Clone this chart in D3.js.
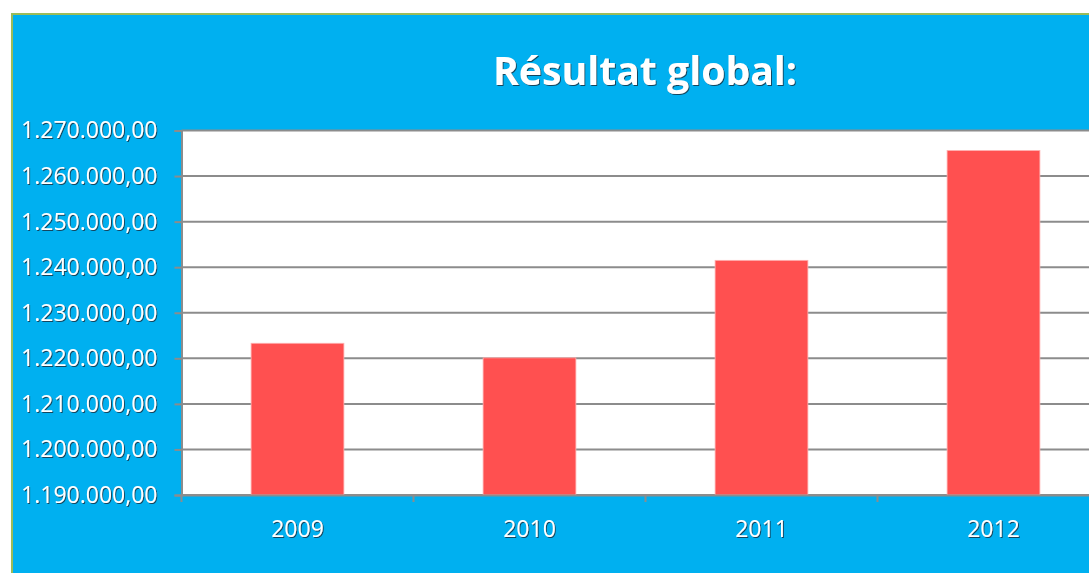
<!DOCTYPE html>
<html>
<head>
<meta charset="utf-8">
<script src="https://cdn.jsdelivr.net/npm/d3@7"></script>
<style>
  body { margin: 0; background: #ffffff; }
  text { font-family: "Open Sans", "Liberation Sans", sans-serif; }
</style>
</head>
<body>
<div id="chart"></div>
<script>
// data
var years = ["2009", "2010", "2011", "2012"];
var results = [1223300, 1220100, 1241500, 1265600];
var yTicks = [1190000, 1200000, 1210000, 1220000, 1230000, 1240000, 1250000, 1260000, 1270000];
var title = "Résultat global:";

var W = 1089, H = 573;
var margin = {top: 130.5, left: 181.5, bottom: 495};

var svg = d3.select("#chart").append("svg")
  .attr("width", W)
  .attr("height", H);

// little dark shadow like the office text effect
var defs = svg.append("defs");
var f = defs.append("filter").attr("id", "shadow")
  .attr("x", "-10%").attr("y", "-10%").attr("width", "130%").attr("height", "140%");
f.append("feDropShadow")
  .attr("dx", 1).attr("dy", 1).attr("stdDeviation", 0.6)
  .attr("flood-color", "#1a2a3a").attr("flood-opacity", 0.8);

// outer chart area
svg.append("rect")
  .attr("x", 12).attr("y", 14)
  .attr("width", W).attr("height", H)
  .attr("fill", "#00B0F0")
  .attr("stroke", "#9BBB59").attr("stroke-width", 2);

var x = d3.scaleBand()
  .domain(years)
  .range([margin.left, margin.left + 4 * 232])
  .paddingInner(0.6)
  .paddingOuter(0.3);

var y = d3.scaleLinear()
  .domain([1190000, 1270000])
  .range([margin.bottom, margin.top]);

// plot area
svg.append("rect")
  .attr("x", margin.left).attr("y", margin.top)
  .attr("width", 4 * 232).attr("height", margin.bottom - margin.top)
  .attr("fill", "#ffffff");

// grid lines
svg.append("g")
  .selectAll("line")
  .data(yTicks)
  .enter()
  .append("line")
    .attr("x1", margin.left)
    .attr("x2", margin.left + 4 * 232)
    .attr("y1", function(d) { return y(d); })
    .attr("y2", function(d) { return y(d); })
    .attr("stroke", "#8c8c8c")
    .attr("stroke-width", 2);

// bars
svg.append("g")
  .selectAll("rect")
  .data(results)
  .enter()
  .append("rect")
    .attr("x", function(d, i) { return x(years[i]); })
    .attr("y", function(d) { return y(d); })
    .attr("width", x.bandwidth())
    .attr("height", function(d) { return margin.bottom - y(d); })
    .attr("fill", "#FF5050")
    .attr("stroke", "#ffb0b0")
    .attr("stroke-width", 0.8);

// y axis
var fmt = function(d) {
  var s = d3.format(",.2f")(d);
  return s.replace(/,/g, "#").replace(".", ",").replace(/#/g, ".");
};
var yAxis = svg.append("g")
  .attr("transform", "translate(" + margin.left + ",0)")
  .call(d3.axisLeft(y).tickValues(yTicks).tickSize(7).tickPadding(17).tickFormat(fmt));
yAxis.select(".domain").attr("stroke", "#8c8c8c").attr("stroke-width", 2);
yAxis.selectAll(".tick line").attr("stroke", "#8c8c8c").attr("stroke-width", 2);
yAxis.selectAll(".tick text")
  .attr("fill", "#ffffff")
  .attr("font-size", 23)
  .attr("font-family", "Open Sans, sans-serif")
  .attr("filter", "url(#shadow)");

// x axis
var xAxis = svg.append("g")
  .attr("transform", "translate(0," + margin.bottom + ")")
  .call(d3.axisBottom(x).tickSize(0).tickPadding(26));
xAxis.select(".domain").attr("stroke", "#8c8c8c").attr("stroke-width", 2);
xAxis.selectAll(".tick text")
  .attr("fill", "#ffffff")
  .attr("font-size", 23)
  .attr("font-family", "Open Sans, sans-serif")
  .attr("filter", "url(#shadow)");

// category separators under the axis
xAxis.selectAll(".sep")
  .data(years)
  .enter()
  .append("line")
    .attr("x1", function(d) { return x(d) - x.step() * 0.3; })
    .attr("x2", function(d) { return x(d) - x.step() * 0.3; })
    .attr("y1", 0).attr("y2", 7)
    .attr("stroke", "#8c8c8c")
    .attr("stroke-width", 2);

// title
svg.append("text")
  .attr("x", 645).attr("y", 85)
  .attr("text-anchor", "middle")
  .attr("fill", "#ffffff")
  .attr("font-size", 40)
  .attr("font-weight", "bold")
  .attr("textLength", 304)
  .attr("lengthAdjust", "spacingAndGlyphs")
  .attr("filter", "url(#shadow)")
  .text(title);
</script>
</body>
</html>
